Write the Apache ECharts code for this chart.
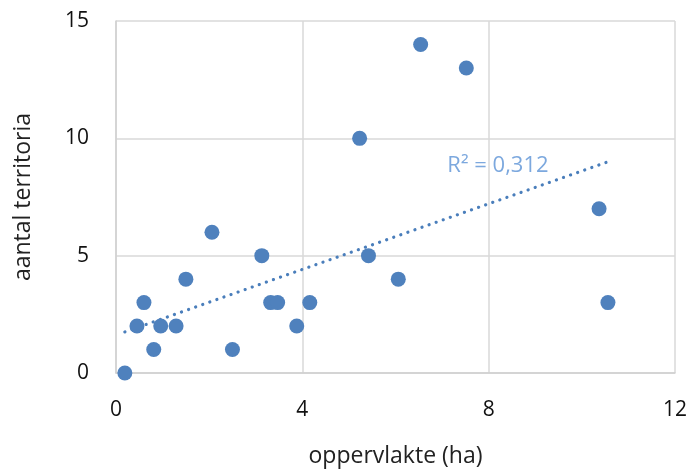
<!DOCTYPE html>
<html><head><meta charset="utf-8">
<script src="https://cdn.jsdelivr.net/npm/echarts@6/dist/echarts.min.js"></script>
<style>html,body{margin:0;padding:0;background:#fff}#c{width:693px;height:470px}</style>
</head><body><div id="c"></div>
<script>
const oppervlakte = [0.19,0.45,0.6,0.81,0.96,1.29,1.5,2.06,2.5,3.13,3.32,3.47,3.88,4.16,5.23,5.42,6.06,6.54,7.52,10.37,10.56];
const territoria  = [0,2,3,1,2,2,4,6,1,5,3,3,2,3,10,5,4,14,13,7,3];
const trendX = [0.19, 10.56];
const trendY = [1.75, 9.0];
const xTicks = [0,4,8,12];
const yTicks = [0,5,10,15];
const r2Label = 'R² = 0,312';

const pts = oppervlakte.map((x,i)=>[x,territoria[i]]);
const trend = trendX.map((x,i)=>[x,trendY[i]]);
const font = '"Open Sans", sans-serif';
const chart = echarts.init(document.getElementById('c'));
chart.setOption({
  animation:false,
  grid:{left:116,right:18,top:21,bottom:97,containLabel:false,outerBoundsMode:'none'},
  xAxis:{type:'value',min:xTicks[0],max:xTicks[xTicks.length-1],interval:4,
    name:'oppervlakte (ha)',nameLocation:'middle',nameGap:72,
    nameTextStyle:{fontFamily:font,fontSize:23,color:'#222'},
    axisLine:{show:true,lineStyle:{color:'#d0d0d0',width:1.5}},axisTick:{show:false},
    axisLabel:{fontFamily:font,fontSize:21,color:'#111',margin:27},
    splitLine:{lineStyle:{color:'#d9d9d9',width:1.5}}},
  yAxis:{type:'value',min:yTicks[0],max:yTicks[yTicks.length-1],interval:5,
    name:'aantal territoria',nameLocation:'middle',nameGap:81,
    nameTextStyle:{fontFamily:font,fontSize:23,color:'#222'},
    axisLine:{show:true,lineStyle:{color:'#d0d0d0',width:1.5}},axisTick:{show:false},
    axisLabel:{fontFamily:font,fontSize:21,color:'#111',margin:27},
    splitLine:{lineStyle:{color:'#d9d9d9',width:1.5}}},
  series:[
    {type:'line',data:trend,symbol:'none',silent:true,
     lineStyle:{color:'#4a7ebb',width:3.2,type:[0.1,7.4],cap:'round'},
     z:1},
    {type:'scatter',data:pts,symbolSize:15,itemStyle:{color:'#4f81bd',opacity:1},z:2},
    {type:'scatter',data:[[8.2,8.35]],symbolSize:0,silent:true,
     label:{show:true,formatter:r2Label,position:'top',distance:0,fontFamily:font,fontSize:22,color:'#5b92d6'}}
  ]
});
</script></body></html>
